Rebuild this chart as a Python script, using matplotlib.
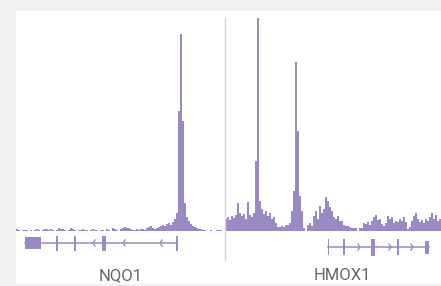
import matplotlib.pyplot as plt
import matplotlib.patches as mpatches
import numpy as np

# coverage heights per 2px bin
nqo1_cov = [2, 1, 0, 1, 1, 1, 0, 1, 0, 1, 2, 1, 0, 1, 2, 2, 1, 2, 1, 0,
            1, 3, 2, 2, 1, 0, 1, 3, 2, 1, 0, 1, 1, 2, 1, 1, 0, 1, 2, 1,
            1, 0, 1, 1, 0, 2, 1, 0, 3, 2, 1, 0, 2, 3, 4, 3, 3, 2, 1, 1,
            2, 1, 2, 2, 1, 3, 4, 5, 3, 2,
            3, 4, 5, 6, 5, 7, 8, 6, 9, 12,
            18, 120, 197, 110, 28,
            14, 10, 7, 5, 4, 3, 2, 2, 1, 1, 0,
            0, 1, 0, 0, 1, 1, 1, 0]
hmox1_cov = [12, 14, 11, 15, 13, 16, 28, 18, 15, 17, 12, 29, 16, 14, 18,
             70, 213, 30, 22, 17, 20, 15, 18, 12, 14, 8, 4, 4, 5, 4, 6,
             6, 8, 20, 40, 169, 100, 35, 20, 3, 0, 6, 8, 5, 15, 20, 12,
             25, 18, 22, 34, 30, 24, 20, 14, 12, 15, 10, 10, 6, 5, 5, 4, 3,
             3, 3, 0, 3, 3, 8, 7, 9, 6, 10, 14, 16, 11, 12, 7, 5, 8,
             15, 12, 14, 8, 10, 9, 12, 10, 14, 9, 2, 4, 10, 15, 18, 12,
             9, 11, 8, 12, 10, 14, 18, 12, 16, 10, 12]

# gene models: span, exons (start, end, height), chevrons
genes = ['NQO1', 'HMOX1']
gene_span = [(25, 177), (328, 429)]
gene_exons = [[(25, 41, 12), (56.3, 57.8, 15), (74.3, 75.8, 15), (102, 106, 15), (176, 177.5, 15)],
              [(327.5, 329, 16), (343, 344.5, 16), (371, 374.5, 17), (397, 398.5, 16), (425, 428.5, 13)]]
gene_arrows = [[93, 123, 160], [360, 391, 413]]
gene_dir = [-1, 1]

purple = '#9b89c4'
W, H = 441, 286

fig = plt.figure(figsize=(W / 100, H / 100), dpi=100, facecolor='#f0f1f3')
ax = fig.add_axes([0, 0, 1, 1])
ax.set_xlim(0, W)
ax.set_ylim(0, H)
ax.axis('off')

ax.add_patch(mpatches.Rectangle((16, 2), W - 16, 273, facecolor='white', edgecolor='none'))

base = H - 231
for start, cov in [(16, nqo1_cov), (225, hmox1_cov)]:
    xs = start + 2 * np.arange(len(cov) + 1)
    ys = base + np.array(cov + [cov[-1]])
    ax.fill_between(xs, base, ys, step='post', color=purple, linewidth=0)

# divider between the two loci
ax.plot([225, 225], [26, 268], color='#d4d4d4', lw=1)

gy = [H - 243, H - 247]
label_x = [121, 342]
for i, g in enumerate(genes):
    y = gy[i]
    ax.plot(gene_span[i], [y, y], color=purple, lw=1.1)
    for s, e, h in gene_exons[i]:
        ax.add_patch(mpatches.Rectangle((s, y - h / 2), e - s, h, facecolor=purple, edgecolor='none'))
    d = gene_dir[i]
    for a in gene_arrows[i]:
        ax.plot([a - 2 * d, a, a - 2 * d], [y + 3, y, y - 3], color=purple, lw=1)
    ax.text(label_x[i], H - 276, g, ha='center', va='center', fontsize=12,
            family='Roboto', color='#666666')

fig.savefig('out.png', dpi=100, facecolor=fig.get_facecolor())
